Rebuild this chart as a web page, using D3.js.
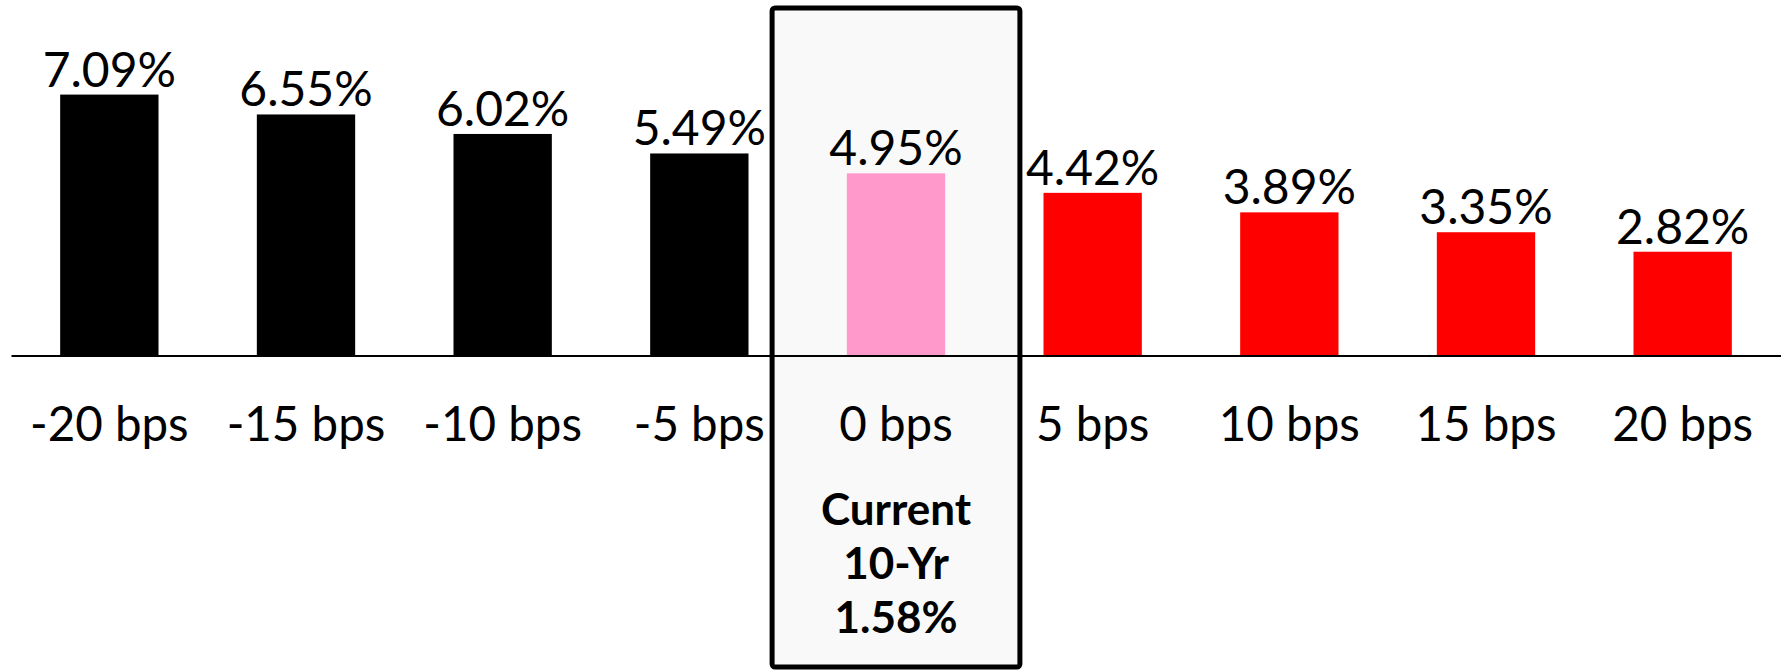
<!DOCTYPE html>
<html>
<head>
<meta charset="utf-8">
<script src="https://cdn.jsdelivr.net/npm/d3@7"></script>
<style>
  body { margin: 0; background: #fff; }
  svg text { font-family: Lato, "Open Sans", sans-serif; fill: #000; }
</style>
</head>
<body>
<svg id="chart"></svg>
<script>
// data
var categories = ["-20 bps", "-15 bps", "-10 bps", "-5 bps", "0 bps", "5 bps", "10 bps", "15 bps", "20 bps"];
var values = [7.09, 6.55, 6.02, 5.49, 4.95, 4.42, 3.89, 3.35, 2.82];
var currentCat = "0 bps";
var currentLines = ["Current", "10-Yr", "1.58%"];

var w = 1781;
var h = 671;
var base = 355.5;

var svg = d3.select("#chart")
    .attr("width", w)
    .attr("height", h);

var x = d3.scaleBand()
    .domain(categories)
    .range([11, w])
    .paddingInner(0.5)
    .paddingOuter(0.25);

var y = d3.scaleLinear()
    .domain([0, 8])
    .range([base, base - 8 * 36.8]);

var curIdx = categories.indexOf(currentCat);

function barColor(d, i) {
    if (i < curIdx) return "#000000";
    if (i == curIdx) return "#ff99cc";
    return "#ff0000";
}

// highlight box behind the current bar
var cx = x(currentCat) + x.bandwidth() / 2;
var boxHalf = x.step() * 0.63;
svg.append("rect")
    .attr("x", cx - boxHalf)
    .attr("y", 8)
    .attr("width", boxHalf * 2)
    .attr("height", h - 12)
    .attr("rx", 3)
    .attr("ry", 3)
    .attr("fill", "#f9f9f9")
    .attr("stroke", "#000")
    .attr("stroke-width", 5);

// bars
svg.selectAll(".bar")
    .data(values)
    .enter().append("rect")
    .attr("class", "bar")
    .attr("x", function(d, i) { return x(categories[i]); })
    .attr("y", function(d) { return y(d); })
    .attr("width", x.bandwidth())
    .attr("height", function(d) { return base - y(d); })
    .attr("fill", barColor);

// value labels
svg.selectAll(".val")
    .data(values)
    .enter().append("text")
    .attr("class", "val")
    .attr("x", function(d, i) { return x(categories[i]) + x.bandwidth() / 2; })
    .attr("y", function(d) { return y(d) - 8; })
    .attr("text-anchor", "middle")
    .style("font-size", "48px")
    .text(function(d) { return d.toFixed(2) + "%"; });

// category axis
var axis = svg.append("g")
    .attr("transform", "translate(0," + base + ")")
    .call(d3.axisBottom(x).tickSize(0).tickSizeOuter(0));

axis.select(".domain")
    .attr("stroke", "#000")
    .attr("stroke-width", 2);

axis.selectAll("text")
    .attr("dy", null)
    .attr("y", 85)
    .style("font-size", "47.5px")
    .style("font-family", "Lato, sans-serif")
    .attr("fill", "#000");

// current yield note
svg.selectAll(".note")
    .data(currentLines)
    .enter().append("text")
    .attr("class", "note")
    .attr("x", cx)
    .attr("y", function(d, i) { return 525 + i * 54; })
    .attr("text-anchor", "middle")
    .style("font-size", "44px")
    .style("font-weight", "bold")
    .text(function(d) { return d; });
</script>
</body>
</html>
